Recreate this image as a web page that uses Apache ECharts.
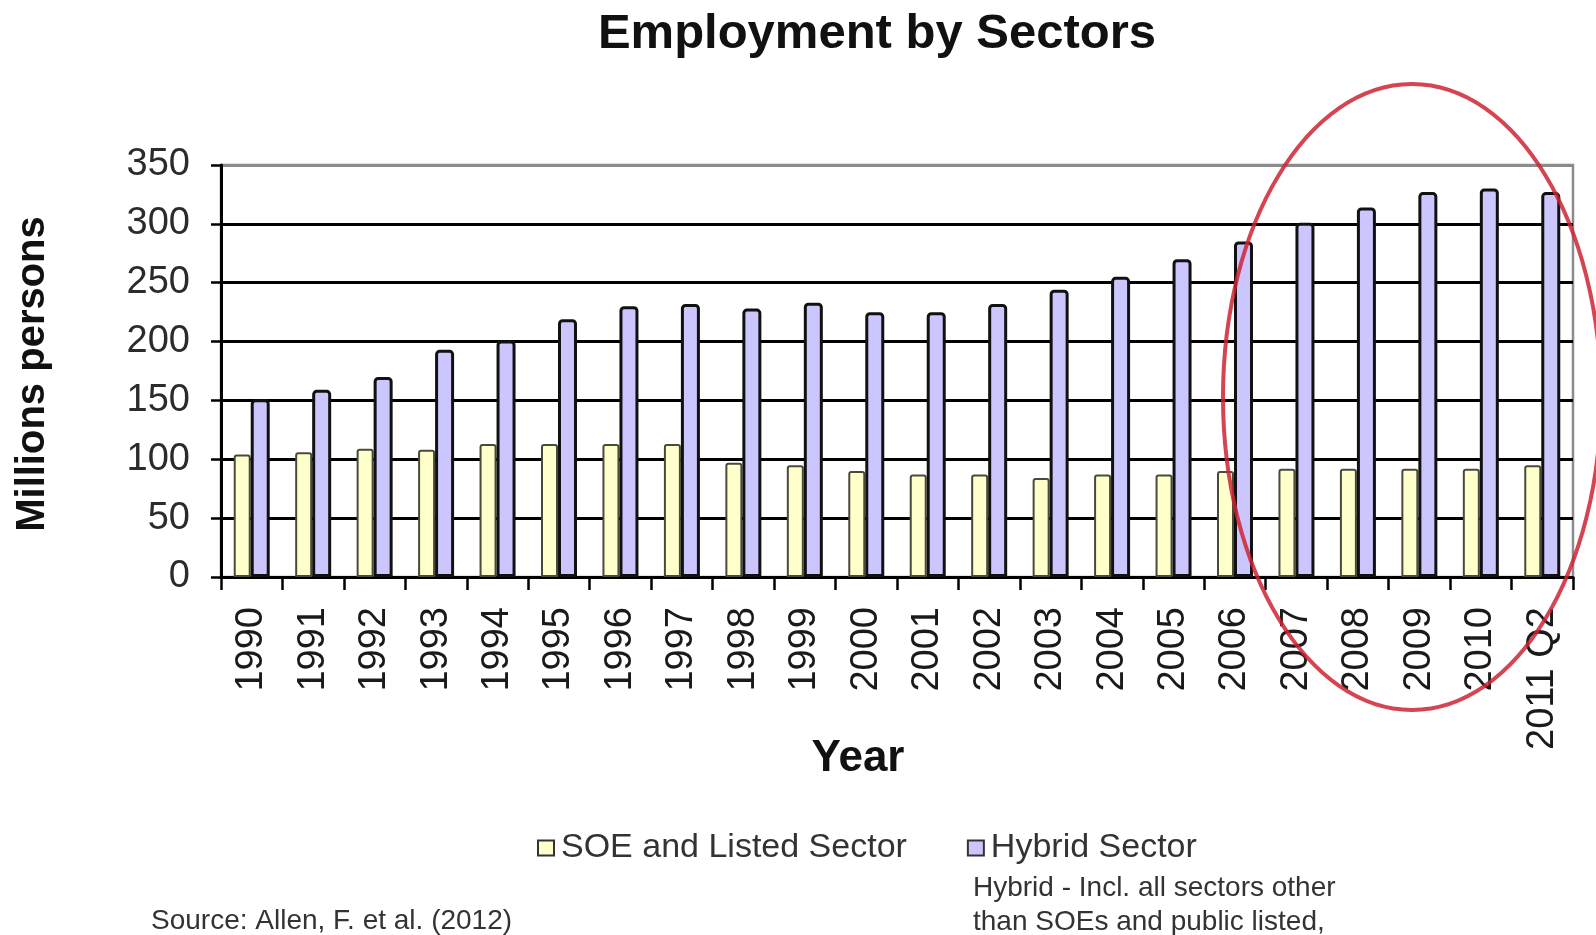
<!DOCTYPE html>
<html>
<head>
<meta charset="utf-8">
<script src="https://cdn.jsdelivr.net/npm/echarts@6/dist/echarts.min.js"></script>
<style>
  html, body { margin: 0; padding: 0; background: #fff; }
  #chart { width: 1596px; height: 935px; }
</style>
</head>
<body>
<div id="chart"></div>
<script>
// categories
const years = ['1990', '1991', '1992', '1993', '1994', '1995', '1996', '1997', '1998', '1999', '2000',
  '2001', '2002', '2003', '2004', '2005', '2006', '2007', '2008', '2009', '2010', '2011 Q2'];
// millions of persons
const soeListed = [104, 106, 109, 108, 113, 113, 113, 113, 97, 95, 90, 87, 87, 84, 87, 87, 90, 92, 92, 92, 92, 95];
const hybrid = [151, 159, 170, 193, 201, 219, 230, 232, 228, 233, 225, 225, 232, 244, 255, 270, 285, 301, 314, 327, 330, 327];
const seriesNames = ['SOE and Listed Sector', 'Hybrid Sector'];

const font = "'Liberation Sans', Arial, sans-serif";

let myChart = echarts.init(document.getElementById('chart'));
myChart.setOption({
  animation: false,
  title: {
    text: 'Employment by Sectors',
    left: 872,
    top: 5,
    textAlign: 'center',
    textStyle: { fontFamily: font, fontSize: 49, fontWeight: 'bold', color: '#111' }
  },
  grid: {
    left: 221, right: 23, top: 165, bottom: 358,
    show: true, borderColor: '#8c8c8c', borderWidth: 2.5
  },
  legend: {
    data: seriesNames,
    left: 532,
    top: 826,
    icon: 'rect',
    itemWidth: 16,
    itemHeight: 15,
    itemGap: 60,
    itemStyle: { borderColor: '#333', borderWidth: 2 },
    textStyle: { fontFamily: font, fontSize: 34, color: '#333', padding: [0, 0, 0, 2] }
  },
  xAxis: {
    type: 'category',
    data: years,
    axisLine: { lineStyle: { color: '#000', width: 3 } },
    axisTick: { show: true, length: 13, lineStyle: { color: '#000', width: 2.5 } },
    axisLabel: {
      rotate: 90,
      margin: 30,
      interval: 0,
      fontFamily: font,
      fontSize: 38,
      color: '#1a1a1a'
    }
  },
  yAxis: {
    type: 'value',
    min: 0,
    max: 350,
    interval: 50,
    axisLine: { show: true, lineStyle: { color: '#000', width: 3 } },
    axisTick: { show: true, length: 10, lineStyle: { color: '#000', width: 2.5 } },
    axisLabel: { margin: 31, fontFamily: font, fontSize: 38, color: '#2b2b2b' },
    splitLine: {
      lineStyle: {
        color: ['#000', '#000', '#000', '#000', '#000', '#000', '#000', '#8c8c8c'],
        width: 3
      }
    }
  },
  series: [
    {
      name: seriesNames[0],
      type: 'bar',
      data: soeListed,
      barWidth: 17,
      barGap: '0%',
      itemStyle: { color: '#FFFFCC', borderColor: '#4a4a3a', borderWidth: 2, borderRadius: [2, 2, 0, 0] }
    },
    {
      name: seriesNames[1],
      type: 'bar',
      data: hybrid,
      barWidth: 19,
      barGap: '0%',
      itemStyle: { color: '#CCC6FF', borderColor: '#111', borderWidth: 3, borderRadius: [3, 3, 0, 0] }
    }
  ],
  graphic: [
    {
      type: 'text',
      x: 33, y: 374,
      rotation: Math.PI / 2,
      style: {
        text: 'Millions persons',
        fontFamily: font, fontSize: 40, fontWeight: 'bold', fill: '#111',
        textAlign: 'center', textVerticalAlign: 'middle'
      }
    },
    {
      type: 'text',
      x: 858, y: 759,
      style: {
        text: 'Year',
        fontFamily: font, fontSize: 44, fontWeight: 'bold', fill: '#111',
        textAlign: 'center', textVerticalAlign: 'middle'
      }
    },
    {
      type: 'text',
      x: 151, y: 921,
      style: {
        text: 'Source: Allen, F. et al. (2012)',
        fontFamily: font, fontSize: 28, fill: '#333',
        textAlign: 'left', textVerticalAlign: 'middle'
      }
    },
    {
      type: 'text',
      x: 973, y: 888,
      style: {
        text: 'Hybrid - Incl. all sectors other',
        fontFamily: font, fontSize: 28, fill: '#333',
        textAlign: 'left', textVerticalAlign: 'middle'
      }
    },
    {
      type: 'text',
      x: 973, y: 922,
      style: {
        text: 'than SOEs and public listed,',
        fontFamily: font, fontSize: 28, fill: '#333',
        textAlign: 'left', textVerticalAlign: 'middle'
      }
    },
    {
      type: 'ellipse',
      shape: { cx: 1412, cy: 397, rx: 189, ry: 313 },
      style: { fill: 'none', stroke: 'rgba(205,35,50,0.85)', lineWidth: 4 },
      z: 100
    }
  ]
});
</script>
</body>
</html>
